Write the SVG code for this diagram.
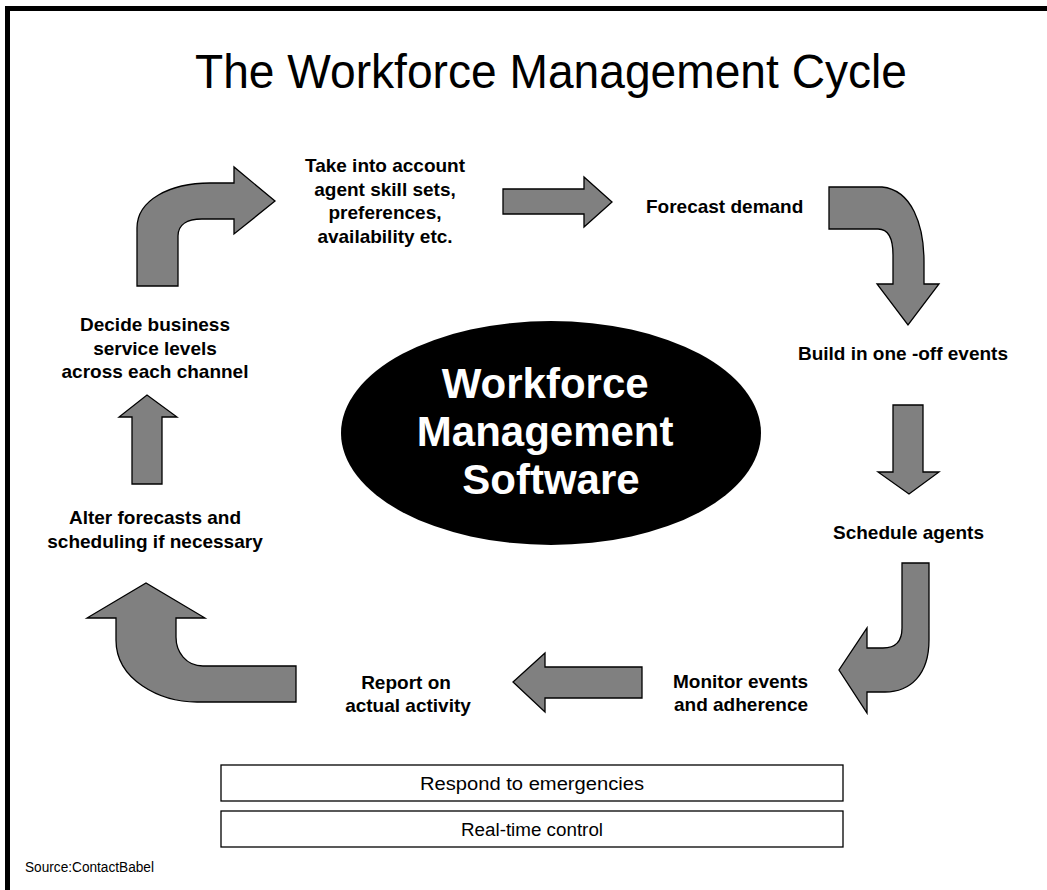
<svg xmlns="http://www.w3.org/2000/svg" width="1047" height="890" viewBox="0 0 1047 890">
<style>
.lbl{font-family:"Liberation Sans",Arial,sans-serif;font-weight:bold;font-size:19px;fill:#000}
.arr{fill:#808080;stroke:#000;stroke-width:1.3;stroke-linejoin:miter}
.box{fill:#fff;stroke:#000;stroke-width:1.3}
.boxt{font-family:"Liberation Sans",Arial,sans-serif;font-size:18px;fill:#000;text-anchor:middle}
.mid{text-anchor:middle}
</style>
<rect x="0" y="0" width="1047" height="890" fill="#fff"/>
<path d="M7.5,890 V8.5 H1047" fill="none" stroke="#000" stroke-width="5"/>
<text x="551" y="88" font-family="'Liberation Sans',Arial,sans-serif" font-size="48" text-anchor="middle" textLength="712" lengthAdjust="spacingAndGlyphs">The Workforce Management Cycle</text>

<g id="connectors">
<path class="arr" d="M137,286 V228 C137,200 170,183 210,183 H234 V167 L275,201 L234,234 V219 H202 C188,219 178,224 178,236 V286 Z"/>
<path class="arr" d="M503,189 H584 V177 L612,202 L584,227 V214 H503 Z"/>
<path class="arr" d="M829,187 H882 C912,190 924,225 924,262 V284 H939 L908,325 L877,284 H893 V255 C893,238 888,229 878,229 H829 Z"/>
<path class="arr" d="M893,405 H923 V472 H939 L909,494 L878,472 H893 Z"/>
<path class="arr" d="M902,563 H929 V640 C929,675 910,692 885,692 H867 V713 L839,670 L867,628 V648 H883 C895,648 902,642 902,628 Z"/>
<path class="arr" d="M642,667 H545 V653 L513,682 L545,712 V698 H642 Z"/>
<path class="arr" d="M296,666 H203 C186,666 176,652 176,637 V618 H205 L146,583 L87,618 H116 V640 C116,680 160,702 197,702 H296 Z"/>
<path class="arr" d="M132,484 V417 H119 L147,395 L177,417 H162 V484 Z"/>
</g>

<g id="center">
<ellipse cx="551" cy="433" rx="210" ry="112" fill="#000"/>
<text font-family="'Liberation Sans',Arial,sans-serif" font-weight="bold" font-size="42" fill="#fff" text-anchor="middle">
<tspan x="551" y="398">Workforce</tspan>
<tspan x="551" y="446">Management</tspan>
<tspan x="551" y="494">Software</tspan>
</text>
</g>

<g id="n-skills"><text class="lbl mid"><tspan x="385" y="172">Take into account</tspan><tspan x="385" y="196">agent skill sets,</tspan><tspan x="385" y="219">preferences,</tspan><tspan x="385" y="243">availability etc.</tspan></text></g>
<g id="n-forecast"><text class="lbl" x="646" y="213">Forecast demand</text></g>
<g id="n-build"><text class="lbl" x="1008" y="360" text-anchor="end">Build in one -off events</text></g>
<g id="n-schedule"><text class="lbl" x="833" y="539">Schedule agents</text></g>
<g id="n-monitor"><text class="lbl"><tspan x="673" y="688">Monitor events</tspan><tspan x="674" y="711">and adherence</tspan></text></g>
<g id="n-report"><text class="lbl mid"><tspan x="406" y="689">Report on</tspan><tspan x="408" y="712">actual activity</tspan></text></g>
<g id="n-alter"><text class="lbl mid"><tspan x="155" y="524">Alter forecasts and</tspan><tspan x="155" y="548">scheduling if necessary</tspan></text></g>
<g id="n-decide"><text class="lbl mid"><tspan x="155" y="331">Decide business</tspan><tspan x="155" y="355">service levels</tspan><tspan x="155" y="378">across each channel</tspan></text></g>

<g id="n-respond"><rect class="box" x="221" y="765" width="622" height="36"/><text class="boxt" x="532" y="790" textLength="224" lengthAdjust="spacingAndGlyphs">Respond to emergencies</text></g>
<g id="n-realtime"><rect class="box" x="221" y="811" width="622" height="36"/><text class="boxt" x="532" y="836" textLength="142" lengthAdjust="spacingAndGlyphs">Real-time control</text></g>
<g id="source"><text x="25" y="872" font-family="'Liberation Sans',Arial,sans-serif" font-size="14" textLength="129" lengthAdjust="spacingAndGlyphs">Source:ContactBabel</text></g>
</svg>
